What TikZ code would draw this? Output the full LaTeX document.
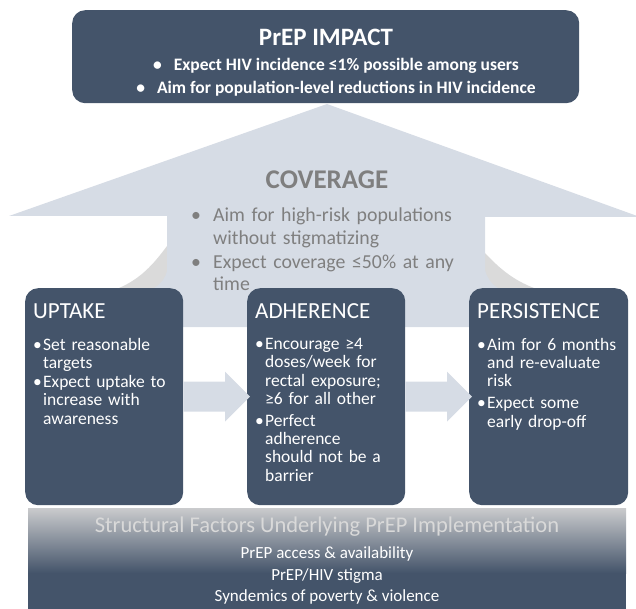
\documentclass[tikz,border=0pt]{standalone}
\usepackage{fontspec}
\setmainfont{Carlito}
\usetikzlibrary{positioning,calc}

\definecolor{slate}{HTML}{44546A}
\definecolor{paleblue}{HTML}{D6DCE5}
\definecolor{swirlgray}{HTML}{DADADA}
\definecolor{covergray}{HTML}{7F7F7F}
\definecolor{fadegray}{HTML}{CACBCD}
\definecolor{bandtext}{HTML}{D9D9D9}

% bulleted item with hanging indent, #1 = indent
\newcommand{\bitem}[2]{\hangindent=#1\hangafter=1\noindent\makebox[#1][l]{\textbullet}#2\par}

\begin{document}
\begin{tikzpicture}[x=1pt, y=-1pt,
    stepbox/.style={fill=slate, rounded corners=13pt, minimum width=158pt, minimum height=217pt, anchor=north west, inner sep=0pt},
    steptitle/.style={text=white, font=\fontsize{23}{26}\selectfont, anchor=base west, inner sep=0pt},
    steptext/.style={text=white, font=\fontsize{17.5}{18.3}\selectfont, anchor=north west, inner sep=0pt,
                     text width=160pt, align=left, execute at begin node={\setlength{\parskip}{#1}\hyphenpenalty=10000}},
    steptext/.default=3.5pt,
    flowarrow/.style={fill=paleblue},
  ]
  \useasboundingbox (0,0) rectangle (636,609);

  % curved band peeking out behind the coverage arrow
  \fill[swirlgray] (167,246) .. controls (153,265) and (140,279) .. (119,288) -- (167,288) -- cycle;
  \fill[paleblue]  (167,271) .. controls (165,279) and (161,284) .. (154,288) -- (167,288) -- cycle;
  \fill[swirlgray] (485,253) .. controls (499,268) and (513,280) .. (534,288) -- (485,288) -- cycle;
  \fill[paleblue]  (485,270) .. controls (487,278) and (491,284) .. (498,288) -- (485,288) -- cycle;

  % coverage arrow
  \fill[paleblue] (327,104) -- (640,217) -- (485,217) -- (485,327) -- (167,327) -- (167,216) -- (9,216) -- cycle;

  \node[stepbox, minimum width=507pt, minimum height=93pt] (impact) at (72,10) {};
  \node[stepbox] (uptake) at (25,288) {};
  \node[stepbox] (adher) at (247,288) {};
  \node[stepbox, minimum width=159pt] (persist) at (469,288) {};

  % block arrows between the steps
  \foreach \a/\b in {uptake/adher, adher/persist}
    \fill[flowarrow] ([yshift=15pt]\a.east) -- ([xshift=-22pt,yshift=15pt]\b.west) -- ++(0,-10)
      -- ([xshift=3pt]\b.west) -- ([xshift=-22pt,yshift=-25pt]\b.west) -- ++(0,-10)
      -- ([yshift=-15pt]\a.east) -- cycle;

  % structural band
  \shade[top color=fadegray, bottom color=slate] (28,508) rectangle (626,573);
  \fill[slate] (28,572.5) rectangle (626,612);

  % impact
  \node[text=white, font=\fontsize{25}{28}\selectfont\bfseries] (impacthead) at (326,37) {PrEP IMPACT};
  \node[text=white, font=\fontsize{17.5}{23}\selectfont\bfseries, align=center, below=6pt of impacthead, xshift=10pt] (impactlist)
    {\textbullet\hspace{12pt}Expect HIV incidence ≤1\% possible among users\\
     \textbullet\hspace{12pt}Aim for population-level reductions in HIV incidence};

  % coverage
  \node[text=covergray, font=\fontsize{27}{30}\selectfont\bfseries] (coverhead) at (327,180) {COVERAGE};
  \node[text=covergray, font=\fontsize{19.8}{22.5}\selectfont, anchor=north west, inner sep=0pt,
        text width=300pt, align=left, execute at begin node={\setlength{\parskip}{1.5pt}\hyphenpenalty=10000}] (coverlist) at (191,208)
    {\bitem{22pt}{Aim for high-risk populations\newline without stigmatizing}
     \bitem{22pt}{Expect coverage ≤50\% at any\newline time}};

  % steps
  \node[steptitle] (uptakehead) at ([xshift=8pt,yshift=-30pt]uptake.north west) {UPTAKE};
  \node[steptitle] (adherhead) at ([xshift=8pt,yshift=-30pt]adher.north west) {ADHERENCE};
  \node[steptitle] (persisthead) at ([xshift=8pt,yshift=-30pt]persist.north west) {PERSISTENCE};

  \node[steptext=0.5pt] (uptakelist) at ([xshift=8pt,yshift=-50pt]uptake.north west)
    {\bitem{10pt}{Set reasonable\newline targets}
     \bitem{10pt}{Expect uptake to\newline increase with\newline awareness}};
  \node[steptext] (adherlist) at ([xshift=8pt,yshift=-50pt]adher.north west)
    {\bitem{10pt}{Encourage ≥4\newline doses/week for\newline rectal exposure;\newline ≥6 for all other}
     \bitem{10pt}{Perfect\newline adherence\newline should not be a\newline barrier}};
  \node[steptext] (persistlist) at ([xshift=8pt,yshift=-50pt]persist.north west)
    {\bitem{10pt}{Aim for 6 months\newline and re-evaluate\newline risk}
     \bitem{10pt}{Expect some\newline early drop-off}};

  % structural factors
  \node[text=bandtext, font=\fontsize{22.5}{25}\selectfont] (bandhead) at (327,527) {Structural Factors Underlying PrEP Implementation};
  \node[text=white, font=\fontsize{17}{21.5}\selectfont, align=center, below=3pt of bandhead] (bandlist)
    {PrEP access \& availability\\ PrEP/HIV stigma\\ Syndemics of poverty \& violence};
\end{tikzpicture}
\end{document}
